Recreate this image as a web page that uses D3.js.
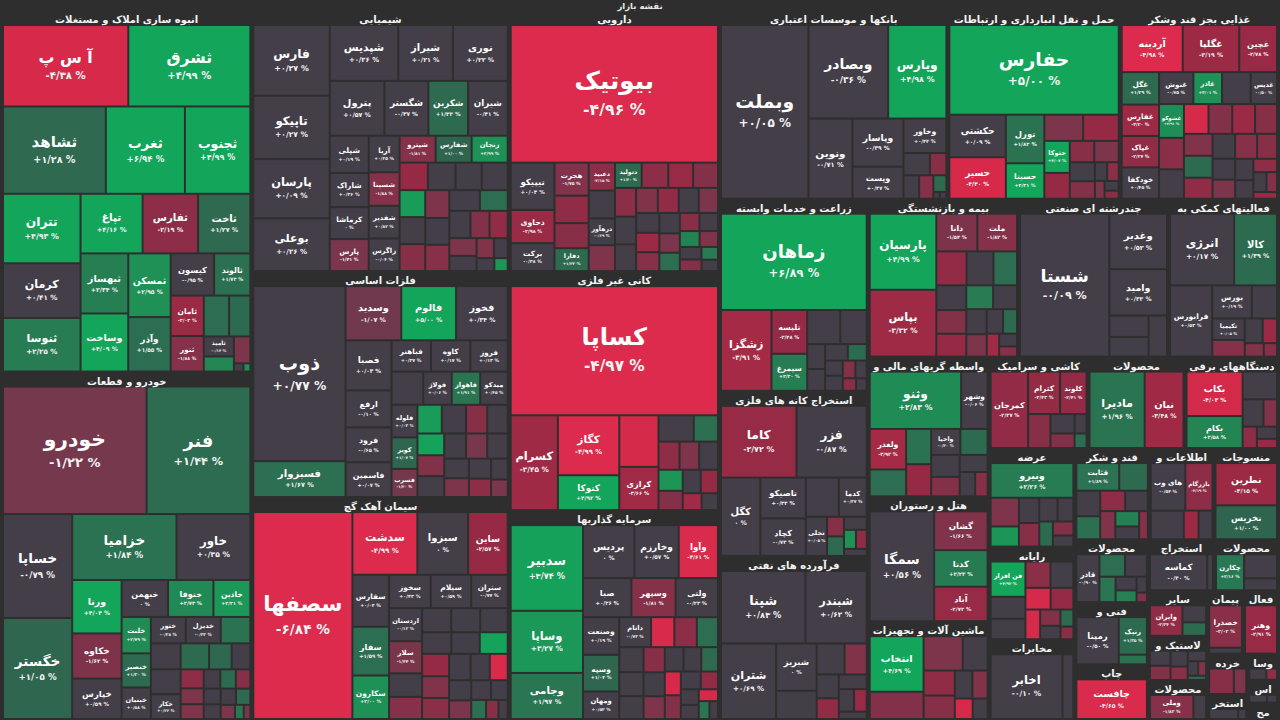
<!DOCTYPE html>
<html>
<head>
<meta charset="utf-8">
<script src="https://cdn.jsdelivr.net/npm/d3@7"></script>
<style>
  html, body { margin: 0; padding: 0; background: #2e2e2e; }
  svg { display: block; font-family: 'DejaVu Sans', sans-serif; }
</style>
</head>
<body>
<div id="market-map"></div>
<script>
// sectors, sizes (px area of each sector block)
const sectorNames = [
    'انبوه سازی املاک و مستغلات', 'خودرو و قطعات', 'شیمیایی', 'فلزات اساسی', 'سیمان آهک گچ',
    'دارویی', 'کانی غیر فلزی', 'سرمایه گذاریها', 'بانکها و موسسات اعتباری',
    'حمل و نقل انبارداری و ارتباطات', 'غذایی بجز قند وشکر', 'زراعت و خدمات وابسته',
    'استخراج کانه های فلزی', 'فرآورده های نفتی', 'بیمه و بازنشستگی', 'چندرشته ای صنعتی',
    'فعالیتهای کمکی به نهاد های مالی', 'واسطه گریهای مالی و پولی', 'هتل و رستوران',
    'ماشین آلات و تجهیزات', 'کاشی و سرامیک', 'محصولات کامپیوتری', 'دستگاههای برقی',
    'عرضه برق،گاز،بخار و آب', 'رایانه', 'مخابرات', 'قند و شکر', 'اطلاعات و ارتباطات',
    'منسوجات', 'محصولات فلزی', 'فنی و مهندسی', 'چاپ', 'استخراج سایر معادن',
    'محصولات چرمی', 'سایر واسطه گریهای مالی', 'لاستیک و پلاستیک', 'محصولات کاغذی',
    'پیمانکاری صنعتی', 'فعالیتهای هنری', 'خرده فروشی', 'استخراج نفت گاز',
    'وسایل ارتباطی', 'استخراج زغال سنگ', 'محصولات چوبی'
];
const sectorSizes = [
    90000, 86500, 66820, 57825, 56800, 54600, 49980, 43680, 42864, 32336, 29704, 28416,
    24420, 24124, 23600, 23550, 17270, 16800, 15000, 11760, 9000, 8820, 8500, 8400,
    7905, 6800, 6750, 5860, 5850, 4600, 4550, 4000, 3350, 3250, 2680, 2600, 2300,
    2256, 2209, 1610, 1000, 800, 700, 500
];

// stocks of each sector ('' = tile too small to read)
const stockNames = [
    ['آ س پ','ثشرق','ثشاهد','ثغرب','ثجنوب','تتران','کرمان','ثنوسا','تپاغ','ثفارس','ثاخت','ثبهساز','وساخت','ثمسکن','وآذر','کیسون','ثالوند','ثامان','ثنور','','ثامید','','','','',''],
    ['خودرو','فنر','خساپا','خگستر','خزامیا','خاور','ورنا','خکاوه','خپارس','خبهمن','خنوفا','خاذین','خلنت','خنصیر','خبنیان','ختور','خدیزل','','','خکار','','','','','','','','','','','','','','','','',''],
    ['فارس','تاپیکو','پارسان','بوعلی','شپدیس','شیراز','نوری','پترول','شگستر','شکربن','شیران','شپلی','شاراک','کرماشا','پارس','آریا','شسینا','شفدیر','زاگرس','شپترو','شفارس','زنجان','','','','','','','','','','','','','','','','','','','','',''],
    ['ذوب','فسبزوار','فالوم','وسدید','فخوز','فصبا','ارفع','فرود','فاسمین','فباهنر','کاوه','فروز','فولاژ','فاهواز','میدکو','فلوله','کویر','فسرب','','','','','','','','','','','','','','','','',''],
    ['سصفها','سدشت','سبزوا','ساین','سفارس','سفار','سکارون','سخوز','سیلام','ستران','اردستان','سلار','','','','','','','','','','','','','','','','','','','','',''],
    ['بیوتیک','تیپیکو','دحاوی','برکت','هجرت','دفارا','دعبید','درهآور','دتولید','','','','','','','','','','','','','','','','','','','','','','','','','','','',''],
    ['کساپا','کسرام','کگاز','کتوکا','کرازی','','','','','','','','','','','',''],
    ['سدبیر','وساپا','وجامی','پردیس','وخارزم','وآوا','صبا','وسپهر','ولتی','وصنعت','وسپه','ومهان','داتام','','','','','','','','','','','','','','','','','','','','',''],
    ['وبملت','وبصادر','وپارس','ونوین','وپاسار','وپست','وخاور','','','','','','',''],
    ['حفارس','حکشتی','حسیر','تورل','حسینا','حتوکا','','','','','','','','','','','',''],
    ['آردینه','غگلپا','غچین','غفارس','غپاک','خودکفا','غگل','غنوش','غاذر','غدیس','غشوکو','','','','','','','','','','','','','','','','','','','','',''],
    ['زماهان','زشگزا','تلیسه','سیمرغ','','','','','','','','','','','',''],
    ['کاما','فزر','کگل','تاصیکو','کچاد','کدما','تجلی','','','','','','',''],
    ['شپنا','شبندر','شتران','شبریز','','','','','','','','',''],
    ['پارسیان','بپاس','دانا','ملت','','','','','','','','','','','','','','',''],
    ['شستا','وغدیر','وامید','','',''],
    ['انرژی','کالا','فرابورس','بورس','تکیمیا','','','','','',''],
    ['وثنو','وشهر','ولغدر','واحیا','','','','','','','','',''],
    ['سمگا','گشان','کدنا','آباد'],
    ['انتخاب','','','','','','','','',''],
    ['کمرجان','کترام','کلوند','','','','',''],
    ['مادیرا','نیان'],
    ['بکاب','بکام','','','','','',''],
    ['ونیرو','','','','','','','','',''],
    ['فن افزار','','','','','','','','','','',''],
    ['اخابر',''],
    ['قثابت','','','','','','','','',''],
    ['های وب','بازرگام','','',''],
    ['نطرین','نخریس'],
    ['قاذر','','','','','','',''],
    ['رمپنا','رنیک',''],
    ['چافست'],
    ['کماسه',''],
    ['چکارن','',''],
    ['وایران','',''],
    ['','','','','','','',''],
    ['وملی',''],
    ['خصدرا',''],
    ['وهنر'],
    ['',''],
    ['حفاری',''],
    ['',''],
    ['',''],
    ['']
];
const stockWeights = [
    [9126,8892,8034,6177,5112,4819,3792,3713,3306,2958,2784,2562,2478,2418,2067,1638,1365,1200,1050,925,540,777,405,396,70,50],
    [16497,11934,6486,6298,6204,4392,2379,2013,1800,1548,1512,1230,960,900,832,832,832,704,667,667,667,529,696,437,396,330,308,288,240,224,270,225,210,252,182,112,84],
    [4690,4200,3920,3500,3315,2652,2652,2601,2091,1887,1887,1260,1152,1080,1080,980,896,875,875,840,840,840,660,675,625,600,550,621,600,580,550,600,500,450,430,560,500,420,360,300,240,200,150],
    [13861,2842,2548,2590,2401,1978,1462,1376,1376,1064,1064,1008,810,810,780,725,700,625,900,600,504,480,456,600,520,480,440,500,470,420,400,380,350,300,250],
    [17400,3456,2700,2106,1617,1518,1353,1184,1147,1036,925,900,594,540,513,513,660,594,520,500,480,620,560,480,430,400,350,380,330,280,240,200,150],
    [27265,1980,1386,1170,1080,750,700,672,644,900,820,700,650,640,600,600,580,560,540,520,500,480,460,440,430,420,400,380,360,340,320,300,280,260,240,200,180],
    [25215,4216,3465,2016,1596,1904,874,600,560,520,500,480,440,400,380,300,260],
    [4880,3538,2623,2142,1848,1638,1488,1364,1302,1073,1044,783,754,550,530,480,500,460,440,420,400,380,300,360,340,320,300,280,240,220,200,180,150,120],
    [13680,6708,4902,3174,2208,1472,1334,528,330,300,330,195,40,40],
    [13280,2100,2050,1632,1190,713,888,816,575,456,418,456,384,190,200,150,120,100],
    [2200,2040,1360,896,896,896,928,840,700,644,644,700,600,540,520,500,560,480,460,430,420,560,480,380,360,330,300,260,240,200,160,120],
    [12596,3666,1408,1188,1012,812,336,400,350,280,240,240,200,180,150,120],
    [4757,4422,2700,1628,1496,957,726,1131,290,290,260,200,180,140],
    [5360,3886,3640,1680,1000,756,462,357,600,400,300,250,180],
    [4440,3900,1353,1312,900,800,700,650,620,600,560,500,450,400,350,300,250,200,160],
    [11844,2958,2478,780,714,702],
    [3888,2600,2544,1110,594,703,459,374,300,216,150],
    [4160,1204,1170,600,777,700,640,560,500,440,380,300,240],
    [6264,1836,1734,1632],
    [2450,1200,638,1100,700,600,300,400,350,250],
    [2450,1160,960,648,400,300,200,150],
    [3570,2520],
    [2028,1456,775,465,300,250,200,150],
    [2520,714,500,450,420,380,330,300,250,200],
    [1120,700,650,600,550,500,450,400,300,250,200,150],
    [4092,620],
    [972,648,500,450,420,380,350,300,250,200],
    [1240,972,713,300,320],
    [1890,1512],
    [1344,700,600,500,350,300,200,120],
    [1845,975,250],
    [2680],
    [1984,200],
    [768,600,300],
    [1100,450,350],
    [400,380,350,300,250,200,150,100],
    [1025,300],
    [1080,150],
    [1176],
    [500,250],
    [704,200],
    [400,250],
    [350,200],
    [200]
];
// percent change of last price
const stockChanges = [
    [-4.38,4.99,1.28,6.94,4.99,4.93,0.41,2.25,4.16,-2.19,1.27,2.34,4.09,2.95,1.55,-0.95,1.73,-3.03,-1.88,1.5,-0.14,1.4,2.6,-1.5,0.2,3],
    [-1.22,1.44,-0.79,1.05,1.84,0.35,4.04,-1.62,0.59,0,2.73,3.31,2.79,1.30,0.58,-0.28,-0.33,1.8,0.1,0.22,1.3,1.2,-0.2,0.3,-2.2,-1.5,-1.5,0.2,-0.1,0.3,1.4,0.1,1.3,-2.0,-1.4,2.0,-1.5],
    [0.27,0.27,0.09,0.26,0.26,0.21,0.22,0.57,-0.37,1.33,-0.41,0.19,0.36,0,-1.41,0.35,-1.88,0.82,-0.04,-1.81,1.00,2.99,0.2,-2.6,0.3,3.5,-1.9,-0.2,0.1,-1.6,0.4,-2.0,1.5,-1.8,-2.3,0.1,-0.3,-1.5,0.2,-1.7,0.1,-0.1,3.2],
    [0.77,1.67,5.00,-1.07,0.34,0.03,-0.10,-0.65,0.07,0.37,0.17,0.13,0.06,1.91,0.45,0.03,1.07,-1.2,0.2,3.5,0.1,-1.8,-1.3,-0.2,-2.0,0.3,-0.1,3.8,0.2,-0.4,-1.5,0.1,-2.2,0.3,-1.4],
    [-6.84,-4.99,0,-2.57,0.04,1.59,3.00,0.43,0.59,-0.77,-0.12,-1.44,0.2,-0.1,3.8,-2.5,0.3,-0.2,0.1,-1.7,-2.1,-1.9,0.2,-0.3,0.1,-4.5,-1.4,0.2,0.1,-0.2,1.6,-2.0,0.1],
    [-4.96,0.04,-2.98,-0.38,-1.75,1.33,-2.15,-0.69,1.30,-2.3,-2.0,0.2,-1.6,-2.2,-2.8,-1.8,-2.1,0.3,-0.2,-1.7,-2.4,0.1,-1.5,0.2,-3.2,-1.9,0.4,-1.4,1.5,-2.0,0.2,2.5,-1.6,0.1,-1.8,2.2,-0.3],
    [-4.97,-3.45,-4.99,4.92,-3.66,-4.2,0.2,1.6,-2.2,-1.6,0.1,3.2,-1.8,-0.2,-2.5,-3.8,0.1],
    [3.74,3.27,1.97,0,0.57,-4.61,0.26,-1.81,-0.23,0.19,1.04,0.53,-0.73,-4.5,-2.2,0.1,1.5,0.2,-0.3,-2.0,0.1,-1.6,-4.2,0.2,-0.1,1.3,-1.8,0.3,-2.4,0.1,-0.2,-4.1,2.0,0.1],
    [0.05,-0.36,4.98,-0.71,-0.39,0.37,0.44,0.1,-2.0,-1.9,0.2,1.3,0.1,-0.1],
    [5.00,0.09,-4.40,1.82,4.31,4.07,-1.5,-2.6,-2.5,-2.0,0.1,-1.5,-1.8,-2.1,0.2,-1.6,0.1,-2.0],
    [-4.98,-3.19,-2.78,-3.20,-2.27,0.45,1.29,-0.75,3.01,-0.50,2.91,0.1,-2.1,-1.8,-3.0,-2.0,-0.2,-1.7,-2.3,0.3,-1.9,-4.3,1.4,-2.0,0.1,-1.5,-0.3,0.2,-2.2,0.1,-1.8,-3.0],
    [6.89,-3.91,-2.48,2.30,0.2,-0.1,0.1,0.3,-0.2,1.4,0.1,-0.3,-1.8,0.1,-2.0,0.2],
    [-2.72,-0.87,0,0.33,-0.73,0.37,0.05,0.1,-2.0,1.3,0.2,3.0,-2.4,-0.1],
    [0.83,0.62,0.69,0,0.1,0.2,-0.1,0.3,-1.7,-2.4,0.1,-2.8,0.2],
    [4.99,-3.32,-1.54,-1.82,-2.4,0.2,1.5,0.1,-1.8,-2.6,2.2,-0.3,0.2,-1.5,0.1,1.3,-3.6,0.2,-1.9],
    [-0.09,0.52,0.33,0.1,0.2,-0.1],
    [0.17,1.39,0.53,0.19,0.05,0.1,-1.9,0.2,-3.0,-1.7,-2.0],
    [2.83,-0.06,-3.92,-0.30,1.5,1.8,-2.6,1.4,0.2,-1.8,-0.1,0.1,-2.0],
    [0.56,-1.66,2.23,-2.72],
    [4.69,-1.8,-2.3,-1.5,0.2,-2.0,-4.2,0.1,-1.7,-0.1],
    [-2.37,-2.43,-2.41,-2.0,0.1,-1.8,0.2,1.5],
    [1.96,-3.48],
    [-4.03,2.58,0.1,0.2,-1.7,-2.2,0.1,-2.9],
    [2.26,-1.6,3.2,0.1,-2.0,0.2,-0.1,1.4,-1.8,0.1],
    [4.92,0.1,-0.2,-2.1,0.2,-4.1,-2.5,-4.2,-1.8,0.1,1.4,-2.0],
    [-0.10,0.1],
    [1.89,1.3,0.1,1.6,-2.2,0.2,-1.7,2.4,-0.1,-1.9],
    [-0.54,-2.19,0.1,0.2,-3.2],
    [-3.15,1.00],
    [-0.90,1.5,0.1,2.0,0.2,2.4,0.1,-1.8],
    [-0.50,1.35,1.8],
    [-4.65],
    [-0.30,0.1],
    [2.16,0.1,-0.2],
    [-2.34,0.1,1.4],
    [0.1,-1.8,0.2,-2.1,0.1,-0.2,-1.6,1.2],
    [-1.83,0.1],
    [-2.02,0.1],
    [-2.91],
    [-2.0,-1.6],
    [-0.39,0.1],
    [0.1,-2.2],
    [0.1,-0.1],
    [0.1]
];

const title = 'نقشه بازار';

// colour of a tile from its change
const color = d3.scaleLinear()
    .domain([-5, -4, -3.99, -2.5, -1, -0.999, 0.999, 1, 2, 3, 4])
    .range(['#dc2b4c', '#d42a4a', '#a52a46', '#952a45', '#6f3a4e', '#433e48', '#433e48', '#2f654f', '#2a7552', '#1e9156', '#13a65b'])
    .clamp(true);

const faDigits = s => s.replace(/\d/g, c => '۰۱۲۳۴۵۶۷۸۹'[+c]);
const fmtChange = v => v === 0
    ? '۰ %'
    : (v > 0 ? '+' : '-') + faDigits(Math.abs(v).toFixed(2)).replace('.', '/') + ' %';

draw();

function draw() {

    const width = 1280;
    const height = 720;
    const margin = {top: 12, right: 3, bottom: 2, left: 3};

    const tree = {
        name: 'root',
        children: sectorNames.map((s, i) => {
            const total = d3.sum(stockWeights[i]);
            return {
                name: s,
                children: stockNames[i].map((n, j) => ({
                    name: n,
                    size: sectorSizes[i] * stockWeights[i][j] / total,
                    change: stockChanges[i][j]
                }))
            };
        })
    };

    const root = d3.hierarchy(tree)
        .sum(d => d.size || 0)
        .sort((a, b) => b.value - a.value);

    d3.treemap()
        .tile(d3.treemapSquarify.ratio(1))
        .size([width - margin.left - margin.right, height - margin.top - margin.bottom])
        .paddingInner(d => d.depth === 0 ? 3 : 2)
        .paddingTop(d => d.depth === 1 ? 14 : 0)
        .paddingLeft(d => d.depth === 1 ? 1 : 0)
        .paddingRight(d => d.depth === 1 ? 1 : 0)
        (root);

    const svg = d3.select('#market-map')
        .append('svg')
            .attr('width', width)
            .attr('height', height);

    svg.append('rect')
        .attr('width', width)
        .attr('height', height)
        .attr('fill', '#2e2e2e');

    svg.append('text')
        .attr('x', width / 2)
        .attr('y', 6)
        .attr('text-anchor', 'middle')
        .attr('dominant-baseline', 'central')
        .attr('fill', '#e6e6e6')
        .style('font-size', '8.5px')
        .style('font-weight', 'bold')
        .text(title);

    const g = svg.append('g')
        .attr('transform', `translate(${margin.left},${margin.top})`);

    //
    // TILES
    //

    const tiles = g.selectAll('g.tile')
        .data(root.leaves())
        .join('g')
            .attr('class', 'tile')
            .attr('transform', d => `translate(${d.x0},${d.y0})`);

    tiles.append('rect')
        .attr('width', d => Math.max(0, d.x1 - d.x0))
        .attr('height', d => Math.max(0, d.y1 - d.y0))
        .attr('fill', d => color(d.data.change));

    tiles.each(function (d) {
        const w = d.x1 - d.x0;
        const h = d.y1 - d.y0;
        if (!d.data.name || w < 18 || h < 14) return;

        let fs = Math.min(25, 3 + 0.13 * Math.sqrt(w * h));
        const t = d3.select(this);
        const name = t.append('text')
            .attr('x', w / 2)
            .attr('text-anchor', 'middle')
            .attr('dominant-baseline', 'central')
            .attr('fill', '#ffffff')
            .style('font-weight', 'bold')
            .style('font-size', fs + 'px')
            .text(d.data.name);
        const len = name.node().getComputedTextLength();
        if (len > w * 0.86) {
            fs = fs * w * 0.86 / len;
            name.style('font-size', fs + 'px');
        }
        if (fs < 5) { name.remove(); return; }

        const showPct = h > fs * 2.3;
        name.attr('y', showPct ? h / 2 - 0.55 * fs : h / 2);
        if (showPct) {
            t.append('text')
                .attr('x', w / 2)
                .attr('y', h / 2 + 0.62 * fs)
                .attr('text-anchor', 'middle')
                .attr('dominant-baseline', 'central')
                .attr('fill', '#f2f2f2')
                .style('font-weight', 'bold')
                .style('font-size', (fs * 0.64) + 'px')
                .text(fmtChange(d.data.change));
        }
    });

    //
    // SECTOR HEADERS
    //

    const heads = g.selectAll('text.head')
        .data(root.children)
        .join('text')
            .attr('class', 'head')
            .attr('x', d => (d.x0 + d.x1) / 2)
            .attr('y', d => d.y0 + 7.5)
            .attr('text-anchor', 'middle')
            .attr('dominant-baseline', 'central')
            .attr('fill', '#f4f4f4')
            .style('font-size', '10px')
            .style('font-weight', 'bold')
            .text(d => d.data.name);

    // cut long headers word by word, then letter by letter
    heads.each(function (d) {
        const el = d3.select(this);
        const maxW = d.x1 - d.x0 - 4;
        let words = d.data.name.split(' ');
        while (words.length > 1 && this.getComputedTextLength() > maxW) {
            words.pop();
            el.text(words.join(' '));
        }
        let s = words.join(' ');
        while (s.length > 0 && this.getComputedTextLength() > maxW) {
            s = s.slice(0, -1);
            el.text(s);
        }
    });
}
</script>
</body>
</html>
